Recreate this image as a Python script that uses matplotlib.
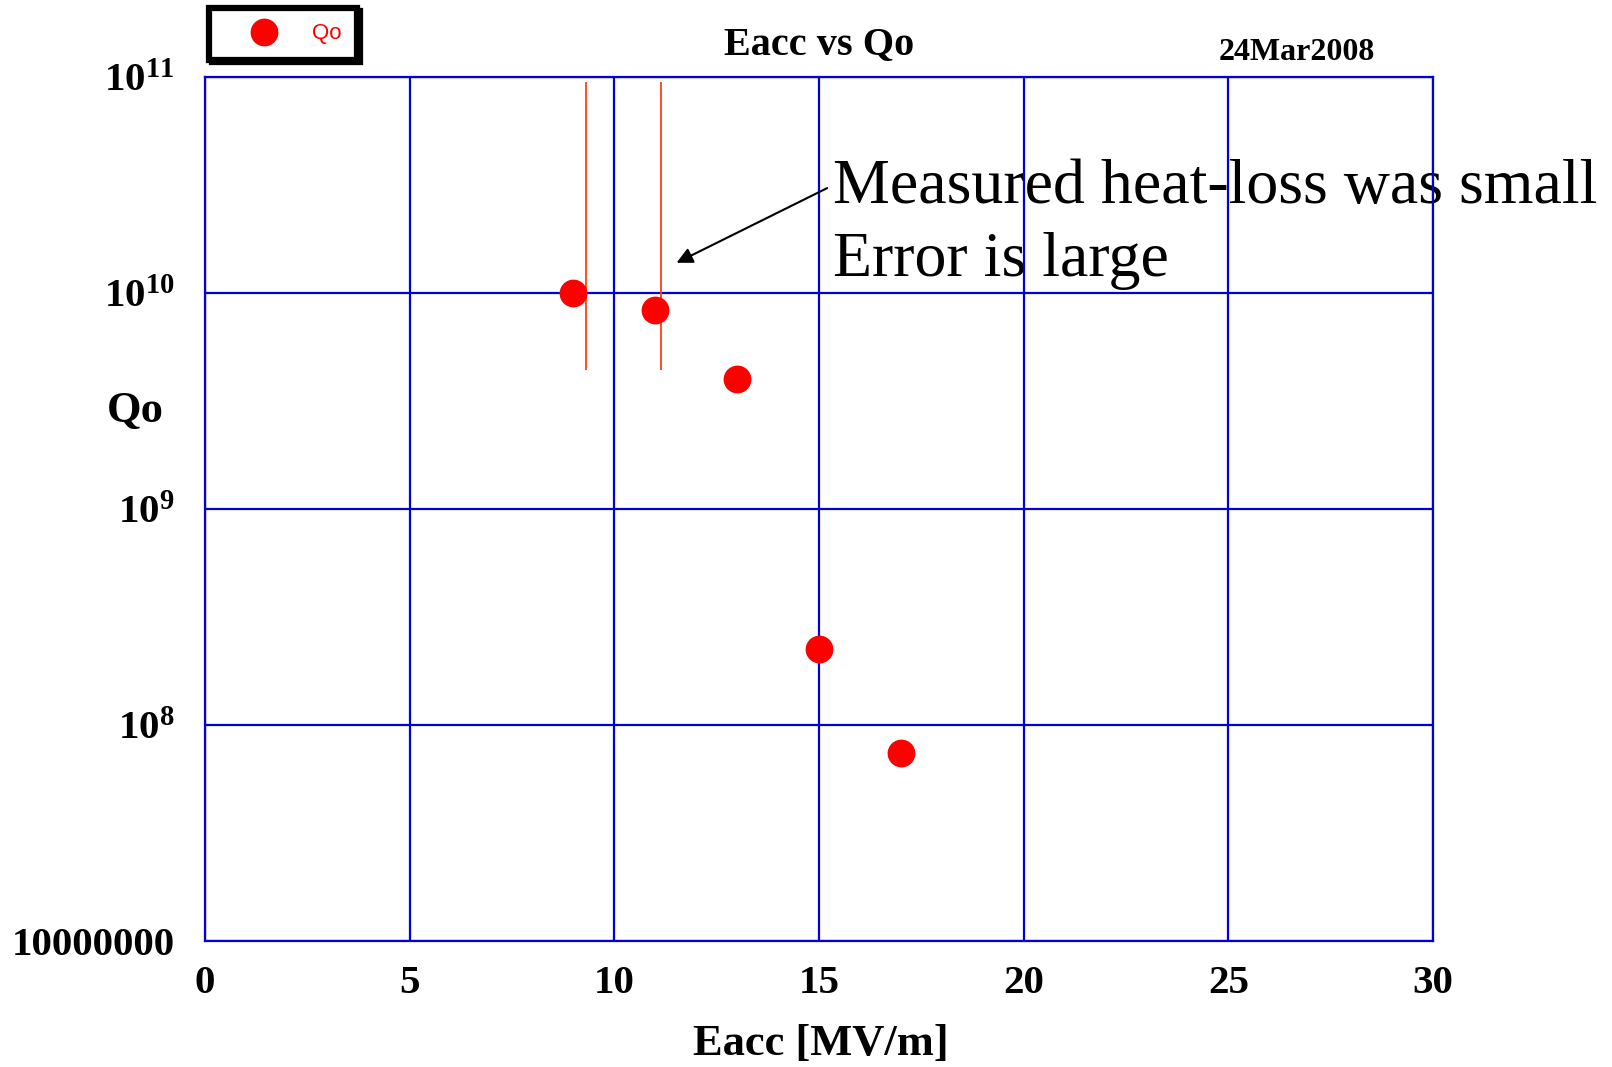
import numpy as np
import matplotlib
matplotlib.use('Agg')
import matplotlib.pyplot as plt
from matplotlib.ticker import FuncFormatter, NullLocator

# Шрифты
plt.rcParams['font.family'] = ['Liberation Serif', 'DejaVu Serif']
plt.rcParams['mathtext.fontset'] = 'custom'
plt.rcParams['mathtext.bf'] = 'Liberation Serif:bold'
plt.rcParams['mathtext.rm'] = 'Liberation Serif:bold'

# Данные: Eacc [MV/m] и Qo
eacc = [9, 11, 13, 15, 17]
qo = [1.0e10, 8.35e9, 4.0e9, 2.24e8, 7.45e7]

# Погрешности для первых двух точек (без засечек)
err_x = [9.3, 11.15]
err_lo = [4.4e9, 4.4e9]
err_hi = [9.5e10, 9.5e10]

x_ticks = [0, 5, 10, 15, 20, 25, 30]
y_ticks = [1e7, 1e8, 1e9, 1e10, 1e11]

BLUE = '#0000DD'


def y_fmt(v, pos):
    e = int(round(np.log10(v)))
    if e == 7:
        return '10000000'
    return r'$\mathbf{10^{%d}}$' % e


def main():
    fig = plt.figure(figsize=(16.12, 10.67), dpi=100)
    ax = fig.add_axes([205 / 1612, 1 - 941 / 1067, 1228 / 1612, 864 / 1067])

    ax.set_yscale('log')
    ax.set_xlim(0, 30)
    ax.set_ylim(1e7, 1e11)
    ax.set_xticks(x_ticks)
    ax.set_yticks(y_ticks)
    ax.yaxis.set_minor_locator(NullLocator())
    ax.yaxis.set_major_formatter(FuncFormatter(y_fmt))

    ax.set_axisbelow(False)
    ax.grid(True, color=BLUE, linewidth=1.6)
    for s in ax.spines.values():
        s.set_color(BLUE)
        s.set_linewidth(1.6)
    ax.tick_params(axis='both', length=0, labelsize=29.5)
    ax.tick_params(axis='x', pad=17)
    ax.tick_params(axis='y', pad=22)
    for lbl in ax.get_xticklabels() + ax.get_yticklabels():
        lbl.set_fontweight('bold')

    # Погрешности и точки
    ax.vlines(err_x, err_lo, err_hi, color='#FF4010', linewidth=1.3, zorder=3)
    ax.plot(eacc, qo, 'o', color='#FF0000', markersize=19, label='Qo',
            zorder=4, clip_on=False)

    # Подписи
    ax.set_title('Eacc vs Qo', fontsize=29, fontweight='bold', pad=16.5)
    ax.set_xlabel('Eacc [MV/m]', fontsize=32, fontweight='bold')
    ax.xaxis.set_label_coords(0.5016, -0.1319)
    ax.xaxis.label.set_va('baseline')
    ax.set_ylabel('Qo', fontsize=32, fontweight='bold', rotation=0)
    ax.yaxis.set_label_coords(-0.057, 0.6007)
    ax.yaxis.label.set_va('baseline')
    ax.yaxis.label.set_ha('center')

    fig.text(1297 / 1612, 1 - 60 / 1067, '24Mar2008', fontsize=23,
             fontweight='bold', ha='center', va='baseline')

    # Комментарий со стрелкой (baseline - по нижней строке)
    ax.text(15.34, 1.2e10, 'Measured heat-loss was small\nError is large',
            fontsize=46, va='baseline', ha='left', zorder=2, clip_on=False,
            linespacing=1.33)
    ax.annotate('', xy=(11.52, 1.38e10), xytext=(15.2, 3.06e10),
                arrowprops=dict(arrowstyle='-|>', color='black', lw=1.5,
                                mutation_scale=24, shrinkA=0, shrinkB=0),
                zorder=5)

    # Легенда
    leg = ax.legend(loc='center', bbox_to_anchor=(283 / 1612, 1 - 34 / 1067),
                    bbox_transform=fig.transFigure,
                    prop={'family': 'Liberation Sans', 'size': 16},
                    labelcolor='#FF0000', fancybox=False, framealpha=1,
                    edgecolor='black',
                    shadow={'facecolor': 'black', 'edgecolor': 'black', 'alpha': 1},
                    handlelength=3.6, handletextpad=0.36, borderpad=0.68)
    leg.get_frame().set_linewidth(4.5)

    plt.savefig('out.png', dpi=100)


if __name__ == "__main__":
    main()
